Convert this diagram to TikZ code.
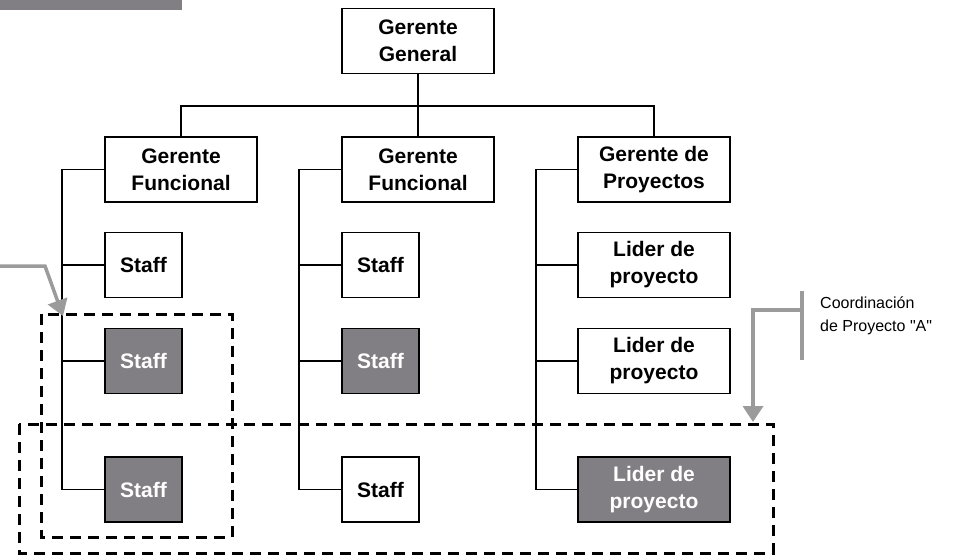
\documentclass[tikz,border=0pt]{standalone}
\usepackage{fontspec}
\setmainfont{Liberation Sans}
\newfontfamily\notafont{Liberation Sans}[Ligatures=ResetAll]
\usetikzlibrary{arrows.meta}
\begin{document}
\begin{tikzpicture}[x=1pt,y=-1pt]

% definiciones
\definecolor{grisosc}{RGB}{130,127,132}
\definecolor{grisflecha}{RGB}{155,155,155}

% estilos de cajas y lineas
\tikzstyle{caja}   = [draw=black,line width=1.6pt,minimum width=152pt,minimum height=65pt,inner sep=0pt,align=center,font=\bfseries\fontsize{21}{27}\selectfont]
\tikzstyle{staff}  = [caja,minimum width=77pt]
\tikzstyle{oscura} = [fill=grisosc,text=white]
\tikzstyle{enlace} = [line width=1.6pt]
\tikzstyle{grupo}  = [line width=3pt,dash pattern=on 11pt off 7pt]
\tikzstyle{flecha} = [grisflecha,line width=3.5pt,-{Triangle[length=16pt,width=20pt]}]

\useasboundingbox (0,0) rectangle (965,558);

% barra superior
\fill [grisosc] (0,0) rectangle (182,10);

% gerencias
\node[caja] (gg) at (418,41) {Gerente\\General};
\node[caja] (f1) at (181,169.5) {Gerente\\Funcional};
\node[caja] (f2) at (418,169.5) {Gerente\\Funcional};
\node[caja] (gp) at (654,169.5) {Gerente de\\Proyectos};

% staff y lideres
\node[staff] (s11) at (143.5,265) {Staff};
\node[staff,oscura] (s12) at (143.5,361) {Staff};
\node[staff,oscura] (s13) at (143.5,489.5) {Staff};
\node[staff] (s21) at (380.5,265) {Staff};
\node[staff,oscura] (s22) at (380.5,361) {Staff};
\node[staff] (s23) at (380.5,489.5) {Staff};
\node[caja] (l1) at (654,265) {Lider de\\proyecto};
\node[caja] (l2) at (654,361) {Lider de\\proyecto};
\node[caja,oscura] (l3) at (654,489.5) {Lider de\\proyecto};

% lineas de mando
\coordinate (bus) at (418,106);
\begin{scope}[enlace]
\draw (gg) -- (f2);
\draw (f1.north) |- (bus) -| (gp.north);
\draw (f1.west) -- ++(-42,0) |- (s13.west);
\draw (s11.west) -- ++(-42,0);
\draw (s12.west) -- ++(-42,0);
\draw (f2.west) -- ++(-42,0) |- (s23.west);
\draw (s21.west) -- ++(-42,0);
\draw (s22.west) -- ++(-42,0);
\draw (gp.west) -- ++(-41,0) |- (l3.west);
\draw (l1.west) -- ++(-41,0);
\draw (l2.west) -- ++(-41,0);
\end{scope}

% agrupaciones
\draw [grupo] (41,314) rectangle (232,537);
\draw [grupo] (19,424) rectangle (773,553);

% coordinacion de proyecto
\coordinate (ai) at (0,266);
\coordinate (aq) at (45,266);
\coordinate (af) at (63,316);
\draw [flecha] (ai) -- (aq) -- (af);
\coordinate (ba) at (802,291);
\coordinate (bb) at (802,360);
\coordinate (bq) at (753,310);
\coordinate (bf) at (753,422);
\draw [grisflecha,line width=3.5pt] (ba) -- (bb);
\draw [flecha] (bq -| ba) -- (bq) -- (bf);
\node [anchor=west,align=left,font=\notafont\fontsize{16}{23}\selectfont,inner sep=0pt] (coord) at (820,316) {Coordinación\\de Proyecto "A"};

\end{tikzpicture}
\end{document}
